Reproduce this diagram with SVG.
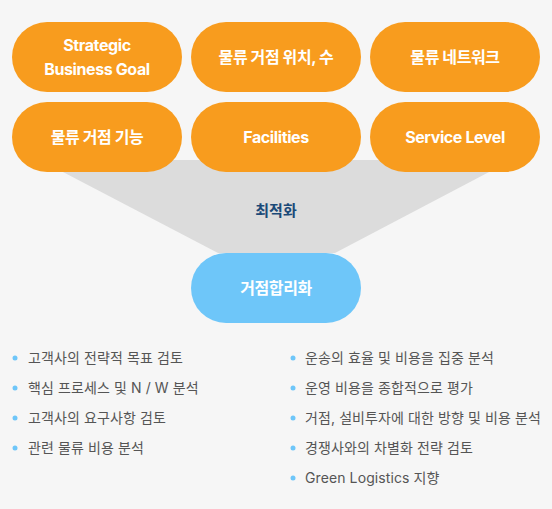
<svg xmlns="http://www.w3.org/2000/svg" width="552" height="509" viewBox="0 0 552 509">
<style>
.pill{fill:#F89C1E}
.pt{font-family:Inter,"Noto Sans CJK KR",sans-serif;font-weight:700;font-size:16px;fill:#fff;text-anchor:middle;letter-spacing:-0.4px}
.bl{font-family:Inter,"Noto Sans CJK KR",sans-serif;font-size:14px;fill:#555;letter-spacing:0.1px}
.dot{fill:#6EC6F9}
</style>
<rect width="552" height="509" fill="#F6F6F6"/>
<g id="funnel">
<polygon points="40,160 512,160 335,253 218,253" fill="#DCDCDC"/>
<text x="276" y="216" text-anchor="middle" font-family="Inter,'Noto Sans CJK KR',sans-serif" font-weight="700" font-size="15" fill="#1B4A78">최적화</text>
</g>
<g id="n1"><rect class="pill" x="12" y="22" width="170" height="70" rx="35"/><text class="pt" x="97" y="51">Strategic</text><text class="pt" x="97" y="75">Business Goal</text></g>
<g id="n2"><rect class="pill" x="191" y="22" width="170" height="70" rx="35"/><text class="pt" x="276" y="63">물류 거점 위치, 수</text></g>
<g id="n3"><rect class="pill" x="370" y="22" width="170" height="70" rx="35"/><text class="pt" x="455" y="63">물류 네트워크</text></g>
<g id="n4"><rect class="pill" x="12" y="102" width="170" height="70" rx="35"/><text class="pt" x="97" y="143">물류 거점 기능</text></g>
<g id="n5"><rect class="pill" x="191" y="102" width="170" height="70" rx="35"/><text class="pt" x="276" y="143">Facilities</text></g>
<g id="n6"><rect class="pill" x="370" y="102" width="170" height="70" rx="35"/><text class="pt" x="455" y="143">Service Level</text></g>
<g id="n7"><rect x="191" y="253" width="170" height="70" rx="35" fill="#6EC6F9"/><text class="pt" x="276" y="294">거점합리화</text></g>
<g id="connectors"></g>
<g id="left-list">
<circle class="dot" cx="15" cy="358" r="2.5"/><text class="bl" x="28" y="363">고객사의 전략적 목표 검토</text>
<circle class="dot" cx="15" cy="388" r="2.5"/><text class="bl" x="28" y="393">핵심 프로세스 및 N / W 분석</text>
<circle class="dot" cx="15" cy="418" r="2.5"/><text class="bl" x="28" y="423">고객사의 요구사항 검토</text>
<circle class="dot" cx="15" cy="448" r="2.5"/><text class="bl" x="28" y="453">관련 물류 비용 분석</text>
</g>
<g id="right-list">
<circle class="dot" cx="293" cy="358" r="2.5"/><text class="bl" x="305" y="363">운송의 효율 및 비용을 집중 분석</text>
<circle class="dot" cx="293" cy="388" r="2.5"/><text class="bl" x="305" y="393">운영 비용을 종합적으로 평가</text>
<circle class="dot" cx="293" cy="418" r="2.5"/><text class="bl" x="305" y="423">거점, 설비투자에 대한 방향 및 비용 분석</text>
<circle class="dot" cx="293" cy="448" r="2.5"/><text class="bl" x="305" y="453">경쟁사와의 차별화 전략 검토</text>
<circle class="dot" cx="293" cy="478" r="2.5"/><text class="bl" x="305" y="483">Green Logistics 지향</text>
</g>
</svg>
